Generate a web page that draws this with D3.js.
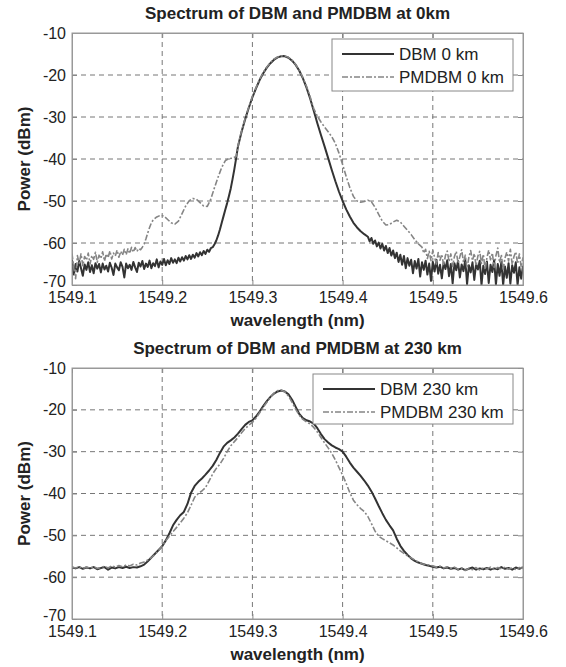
<!DOCTYPE html>
<html>
<head>
<meta charset="utf-8">
<script src="https://cdn.jsdelivr.net/npm/d3@7"></script>
<style>
  body { margin: 0; background: #fff; }
  svg { display: block; font-family: "Liberation Sans", Arial, sans-serif; }
</style>
</head>
<body>
<div id="chart"></div>
<script>
// axis ticks
const xTicks = [1549.1, 1549.2, 1549.3, 1549.4, 1549.5, 1549.6];
const yTicks = [-10, -20, -30, -40, -50, -60, -70];

// spectra, [wavelength nm, power dBm]
const dbm0 = [
  [1549.100,-64.0],[1549.102,-67.5],[1549.104,-65.0],[1549.106,-66.8],[1549.108,-64.2],[1549.110,-66.0],
  [1549.112,-67.8],[1549.114,-65.1],[1549.116,-66.4],[1549.118,-64.6],[1549.120,-66.9],[1549.122,-65.3],
  [1549.124,-67.2],[1549.126,-64.8],[1549.128,-66.1],[1549.130,-65.0],[1549.132,-67.0],[1549.134,-64.9],
  [1549.136,-66.3],[1549.138,-65.4],[1549.140,-66.8],[1549.142,-64.7],[1549.144,-65.9],[1549.146,-67.6],
  [1549.148,-64.9],[1549.150,-65.8],[1549.152,-66.5],[1549.154,-64.6],[1549.156,-65.7],[1549.158,-68.2],
  [1549.160,-64.9],[1549.162,-66.0],[1549.164,-65.2],[1549.166,-66.4],[1549.168,-64.5],[1549.170,-65.8],
  [1549.172,-66.9],[1549.174,-64.7],[1549.176,-65.6],[1549.178,-64.3],[1549.180,-66.2],[1549.182,-64.9],
  [1549.184,-65.7],[1549.186,-64.2],[1549.188,-66.0],[1549.190,-64.8],[1549.192,-65.5],[1549.194,-63.9],
  [1549.196,-65.8],[1549.198,-64.4],[1549.200,-65.2],[1549.202,-63.8],[1549.204,-65.3],[1549.206,-64.1],
  [1549.208,-65.0],[1549.210,-63.6],[1549.212,-64.7],[1549.214,-63.9],[1549.216,-64.8],[1549.218,-63.5],
  [1549.220,-64.4],[1549.222,-63.4],[1549.224,-64.2],[1549.226,-63.1],[1549.228,-63.9],[1549.230,-62.9],
  [1549.232,-63.8],[1549.234,-62.8],[1549.236,-63.5],[1549.238,-62.4],[1549.240,-63.2],[1549.242,-62.2],
  [1549.244,-62.9],[1549.246,-61.9],[1549.248,-62.6],[1549.250,-61.6],[1549.252,-62.1],[1549.254,-61.2],
  [1549.256,-61.0],[1549.258,-60.3],[1549.260,-59.4],[1549.262,-58.2],[1549.264,-56.8],[1549.266,-55.2],
  [1549.268,-53.6],[1549.270,-52.0],[1549.272,-50.5],[1549.274,-48.8],[1549.276,-47.0],[1549.278,-44.8],
  [1549.280,-42.4],[1549.282,-39.8],[1549.284,-37.0],[1549.288,-33.5],[1549.292,-30.5],[1549.296,-27.8],
  [1549.300,-25.3],[1549.304,-23.2],[1549.308,-21.2],[1549.312,-19.6],[1549.316,-18.25],[1549.320,-17.2],
  [1549.324,-16.35],[1549.328,-15.8],[1549.332,-15.55],[1549.334,-15.5],[1549.336,-15.55],[1549.340,-15.9],
  [1549.344,-16.6],[1549.348,-17.6],[1549.352,-19.0],[1549.356,-20.8],[1549.360,-23.0],[1549.364,-25.6],
  [1549.368,-28.5],[1549.372,-31.5],[1549.376,-34.3],[1549.380,-37.0],[1549.384,-39.8],[1549.388,-42.6],
  [1549.392,-45.3],[1549.396,-47.8],[1549.400,-50.0],[1549.404,-52.0],[1549.408,-53.7],[1549.412,-55.2],
  [1549.416,-56.3],[1549.420,-57.2],[1549.424,-57.9],[1549.428,-58.5],[1549.430,-59.6],[1549.432,-58.8],
  [1549.434,-60.2],[1549.436,-59.4],[1549.438,-60.8],[1549.440,-59.9],[1549.442,-61.3],[1549.444,-60.2],
  [1549.446,-61.8],[1549.448,-60.7],[1549.450,-62.4],[1549.452,-61.2],[1549.454,-63.0],[1549.456,-61.8],
  [1549.458,-63.6],[1549.460,-62.3],[1549.462,-64.5],[1549.464,-62.8],[1549.466,-65.2],[1549.468,-63.1],
  [1549.470,-66.0],[1549.472,-63.6],[1549.474,-65.4],[1549.476,-64.0],[1549.478,-67.2],[1549.480,-64.3],
  [1549.482,-66.1],[1549.484,-63.8],[1549.486,-68.0],[1549.488,-64.6],[1549.490,-66.4],[1549.492,-64.2],
  [1549.494,-67.5],[1549.496,-64.9],[1549.498,-69.0],[1549.500,-64.5],[1549.502,-66.8],[1549.504,-64.0],
  [1549.506,-67.3],[1549.508,-65.2],[1549.510,-68.4],[1549.512,-64.7],[1549.514,-66.2],[1549.516,-64.1],
  [1549.518,-67.9],[1549.520,-65.0],[1549.522,-69.6],[1549.524,-64.8],[1549.526,-66.5],[1549.528,-64.3],
  [1549.530,-68.2],[1549.532,-65.1],[1549.534,-66.7],[1549.536,-64.0],[1549.538,-69.8],[1549.540,-65.3],
  [1549.542,-67.0],[1549.544,-64.6],[1549.546,-68.8],[1549.548,-65.0],[1549.550,-66.3],[1549.552,-64.2],
  [1549.554,-70.0],[1549.556,-65.4],[1549.558,-67.4],[1549.560,-64.4],[1549.562,-69.5],[1549.564,-65.2],
  [1549.566,-66.9],[1549.568,-64.1],[1549.570,-69.9],[1549.572,-65.0],[1549.574,-67.8],[1549.576,-64.5],
  [1549.578,-70.0],[1549.580,-65.6],[1549.582,-68.3],[1549.584,-64.8],[1549.586,-69.7],[1549.588,-65.3],
  [1549.590,-67.1],[1549.592,-64.6],[1549.594,-70.0],[1549.596,-65.8],[1549.598,-68.5],[1549.600,-65.4]
];

const pmdbm0 = [
  [1549.100,-62.5],[1549.102,-66.0],[1549.104,-68.5],[1549.106,-63.0],[1549.108,-64.8],[1549.110,-62.6],
  [1549.112,-65.4],[1549.114,-63.2],[1549.116,-64.1],[1549.118,-62.4],[1549.120,-65.0],[1549.122,-63.0],
  [1549.124,-63.9],[1549.126,-62.2],[1549.128,-64.6],[1549.130,-62.9],[1549.132,-63.7],[1549.134,-62.1],
  [1549.136,-64.3],[1549.138,-62.6],[1549.140,-63.5],[1549.142,-61.9],[1549.144,-63.8],[1549.146,-62.4],
  [1549.148,-63.1],[1549.150,-61.7],[1549.152,-63.4],[1549.154,-62.0],[1549.156,-62.9],[1549.158,-61.5],
  [1549.160,-62.8],[1549.162,-61.4],[1549.164,-62.5],[1549.166,-61.0],[1549.168,-62.2],[1549.170,-61.1],
  [1549.172,-62.0],[1549.174,-61.3],[1549.176,-61.6],[1549.178,-61.0],[1549.180,-60.2],[1549.182,-59.0],
  [1549.184,-57.6],[1549.186,-56.3],[1549.188,-55.2],[1549.190,-54.5],[1549.194,-53.8],[1549.198,-53.4],
  [1549.202,-53.6],[1549.206,-54.4],[1549.210,-55.2],[1549.214,-55.5],[1549.218,-54.8],[1549.222,-53.0],
  [1549.226,-51.2],[1549.230,-49.9],[1549.234,-49.4],[1549.238,-49.6],[1549.242,-50.4],[1549.246,-51.2],
  [1549.250,-51.3],[1549.254,-49.5],[1549.258,-46.8],[1549.262,-44.3],[1549.266,-42.0],[1549.270,-40.4],
  [1549.274,-39.9],[1549.278,-39.8],[1549.282,-39.4],[1549.284,-36.8],[1549.288,-33.3],[1549.292,-30.3],
  [1549.296,-27.6],[1549.300,-25.1],[1549.304,-23.0],[1549.308,-21.0],[1549.312,-19.4],[1549.316,-18.1],
  [1549.320,-17.0],[1549.324,-16.2],[1549.328,-15.7],[1549.332,-15.45],[1549.334,-15.4],[1549.336,-15.45],
  [1549.340,-15.8],[1549.344,-16.5],[1549.348,-17.5],[1549.352,-18.9],[1549.356,-20.6],[1549.360,-22.7],
  [1549.364,-25.2],[1549.368,-28.0],[1549.372,-29.8],[1549.376,-31.2],[1549.380,-32.4],[1549.384,-33.5],
  [1549.388,-34.7],[1549.392,-36.3],[1549.396,-38.6],[1549.400,-41.3],[1549.404,-44.2],[1549.408,-46.8],
  [1549.412,-48.9],[1549.416,-50.0],[1549.420,-50.3],[1549.424,-50.1],[1549.428,-49.8],[1549.432,-50.2],
  [1549.436,-51.5],[1549.440,-53.2],[1549.444,-54.8],[1549.448,-55.7],[1549.452,-55.6],[1549.456,-55.0],
  [1549.460,-54.6],[1549.464,-55.0],[1549.468,-56.0],[1549.472,-57.0],[1549.476,-58.0],[1549.480,-59.2],
  [1549.484,-60.2],[1549.488,-61.0],[1549.490,-62.4],[1549.492,-61.5],[1549.494,-63.7],[1549.496,-62.0],
  [1549.498,-64.2],[1549.500,-61.8],[1549.502,-63.4],[1549.504,-65.0],[1549.506,-62.3],[1549.508,-64.1],
  [1549.510,-62.7],[1549.512,-65.3],[1549.514,-63.0],[1549.516,-61.9],[1549.518,-64.4],[1549.520,-62.6],
  [1549.522,-65.6],[1549.524,-63.2],[1549.526,-62.0],[1549.528,-64.8],[1549.530,-63.3],[1549.532,-61.6],
  [1549.534,-64.6],[1549.536,-62.9],[1549.538,-66.0],[1549.540,-63.4],[1549.542,-61.8],[1549.544,-64.2],
  [1549.546,-62.5],[1549.548,-65.4],[1549.550,-63.1],[1549.552,-62.0],[1549.554,-64.9],[1549.556,-62.7],
  [1549.558,-66.3],[1549.560,-63.5],[1549.562,-61.7],[1549.564,-64.0],[1549.566,-62.4],[1549.568,-65.8],
  [1549.570,-63.0],[1549.572,-61.2],[1549.574,-64.7],[1549.576,-62.8],[1549.578,-66.5],[1549.580,-63.6],
  [1549.582,-62.2],[1549.584,-64.3],[1549.586,-61.5],[1549.588,-65.1],[1549.590,-63.2],[1549.592,-62.1],
  [1549.594,-64.9],[1549.596,-62.6],[1549.598,-65.7],[1549.600,-63.4]
];

const dbm230 = [
  [1549.100,-57.7],[1549.104,-57.9],[1549.108,-57.6],[1549.112,-58.0],[1549.116,-57.7],[1549.120,-57.9],
  [1549.124,-57.6],[1549.128,-58.1],[1549.132,-57.8],[1549.136,-57.6],[1549.140,-58.2],[1549.144,-57.7],
  [1549.148,-57.9],[1549.152,-57.6],[1549.156,-57.8],[1549.160,-57.5],[1549.164,-57.8],[1549.168,-57.6],
  [1549.172,-57.7],[1549.176,-57.4],[1549.180,-57.0],[1549.184,-56.2],[1549.188,-55.3],[1549.192,-54.4],
  [1549.196,-53.5],[1549.200,-52.6],[1549.204,-51.2],[1549.208,-49.5],[1549.212,-47.6],[1549.216,-46.3],
  [1549.220,-45.2],[1549.224,-44.4],[1549.228,-42.5],[1549.232,-39.8],[1549.236,-38.2],[1549.240,-37.2],
  [1549.244,-36.4],[1549.248,-35.5],[1549.252,-34.5],[1549.256,-33.4],[1549.260,-32.0],[1549.264,-30.3],
  [1549.268,-28.8],[1549.272,-27.9],[1549.276,-27.3],[1549.280,-26.6],[1549.284,-25.7],[1549.288,-24.6],
  [1549.292,-23.6],[1549.296,-22.9],[1549.300,-22.5],[1549.304,-21.6],[1549.308,-20.4],[1549.312,-19.1],
  [1549.316,-17.9],[1549.320,-16.9],[1549.324,-16.1],[1549.328,-15.6],[1549.332,-15.4],[1549.336,-15.6],
  [1549.340,-16.3],[1549.344,-17.6],[1549.348,-19.3],[1549.352,-21.0],[1549.356,-22.0],[1549.360,-22.5],
  [1549.364,-22.8],[1549.368,-23.3],[1549.372,-24.4],[1549.376,-25.8],[1549.380,-27.0],[1549.384,-27.8],
  [1549.388,-28.5],[1549.392,-29.0],[1549.396,-29.4],[1549.400,-30.0],[1549.404,-31.2],[1549.408,-32.6],
  [1549.412,-33.8],[1549.416,-34.8],[1549.420,-35.8],[1549.424,-36.9],[1549.428,-38.1],[1549.432,-39.5],
  [1549.436,-41.2],[1549.440,-43.0],[1549.444,-44.7],[1549.448,-46.3],[1549.452,-47.6],[1549.456,-48.8],
  [1549.460,-50.8],[1549.464,-52.5],[1549.468,-53.7],[1549.472,-54.7],[1549.476,-55.5],[1549.480,-56.1],
  [1549.484,-56.5],[1549.488,-56.8],[1549.492,-57.1],[1549.496,-57.3],[1549.500,-57.5],[1549.504,-57.7],
  [1549.508,-57.5],[1549.512,-57.9],[1549.516,-57.7],[1549.520,-58.0],[1549.524,-57.8],[1549.528,-58.2],
  [1549.532,-57.9],[1549.536,-58.3],[1549.540,-58.0],[1549.544,-57.7],[1549.548,-58.2],[1549.552,-57.9],
  [1549.556,-58.1],[1549.560,-57.8],[1549.564,-58.2],[1549.568,-57.9],[1549.572,-58.1],[1549.576,-57.6],
  [1549.580,-58.0],[1549.584,-57.8],[1549.588,-58.2],[1549.592,-57.7],[1549.596,-58.0],[1549.600,-57.6]
];

const pmdbm230 = [
  [1549.100,-57.6],[1549.104,-57.8],[1549.108,-57.5],[1549.112,-57.9],[1549.116,-57.6],[1549.120,-57.8],
  [1549.124,-57.5],[1549.128,-57.9],[1549.132,-57.7],[1549.136,-57.4],[1549.140,-57.8],[1549.144,-57.3],
  [1549.148,-57.6],[1549.152,-57.2],[1549.156,-57.5],[1549.160,-57.1],[1549.164,-57.3],[1549.168,-56.9],
  [1549.172,-57.1],[1549.176,-56.6],[1549.180,-56.4],[1549.184,-55.9],[1549.188,-55.3],[1549.192,-54.6],
  [1549.196,-53.6],[1549.200,-52.5],[1549.204,-51.3],[1549.208,-50.2],[1549.212,-49.1],[1549.216,-48.1],
  [1549.220,-47.0],[1549.224,-45.9],[1549.228,-44.6],[1549.232,-42.8],[1549.236,-40.9],[1549.240,-40.0],
  [1549.244,-39.4],[1549.248,-38.6],[1549.252,-37.0],[1549.256,-35.3],[1549.260,-34.0],[1549.264,-33.0],
  [1549.268,-31.6],[1549.272,-30.0],[1549.276,-28.6],[1549.280,-27.6],[1549.284,-26.6],[1549.288,-25.5],
  [1549.292,-24.5],[1549.296,-23.7],[1549.300,-23.0],[1549.304,-22.0],[1549.308,-20.7],[1549.312,-19.4],
  [1549.316,-18.2],[1549.320,-17.0],[1549.324,-16.0],[1549.328,-15.4],[1549.332,-15.3],[1549.336,-15.7],
  [1549.340,-16.7],[1549.344,-18.2],[1549.348,-19.9],[1549.352,-21.3],[1549.356,-22.3],[1549.360,-22.9],
  [1549.364,-23.4],[1549.368,-24.2],[1549.372,-25.3],[1549.376,-26.6],[1549.380,-27.9],[1549.384,-29.1],
  [1549.388,-30.4],[1549.392,-32.0],[1549.396,-33.8],[1549.400,-35.6],[1549.404,-37.6],[1549.408,-39.8],
  [1549.412,-41.6],[1549.416,-42.7],[1549.420,-43.6],[1549.424,-44.3],[1549.428,-45.5],[1549.432,-47.2],
  [1549.436,-49.0],[1549.440,-50.2],[1549.444,-50.8],[1549.448,-51.3],[1549.452,-51.8],[1549.456,-52.3],
  [1549.460,-53.0],[1549.464,-53.7],[1549.468,-54.3],[1549.472,-54.9],[1549.476,-55.4],[1549.480,-55.9],
  [1549.484,-56.4],[1549.488,-56.8],[1549.492,-57.0],[1549.496,-57.1],[1549.500,-57.3],[1549.504,-57.6],
  [1549.508,-57.4],[1549.512,-57.8],[1549.516,-57.5],[1549.520,-58.0],[1549.524,-57.6],[1549.528,-58.1],
  [1549.532,-57.8],[1549.536,-58.4],[1549.540,-57.9],[1549.544,-58.2],[1549.548,-57.7],[1549.552,-58.3],
  [1549.556,-57.8],[1549.560,-58.0],[1549.564,-57.6],[1549.568,-58.2],[1549.572,-57.7],[1549.576,-58.0],
  [1549.580,-57.6],[1549.584,-58.1],[1549.588,-57.8],[1549.592,-58.2],[1549.596,-57.7],[1549.600,-57.9]
];

const panels = [
  { title: "Spectrum of DBM and PMDBM at 0km", top: 33, bottom: 285,
    series: [{ name: "DBM 0 km", data: dbm0, kind: "solid" }, { name: "PMDBM 0 km", data: pmdbm0, kind: "dashdot" }],
    legend: { x: 332, y: 39, w: 181, h: 52 } },
  { title: "Spectrum of DBM and PMDBM at 230 km", top: 368, bottom: 619,
    series: [{ name: "DBM 230 km", data: dbm230, kind: "solid" }, { name: "PMDBM 230 km", data: pmdbm230, kind: "dashdot" }],
    legend: { x: 313, y: 374, w: 200, h: 50 } }
];

const width = 566, height = 667;
const left = 72, right = 523;
const style = {
  solid: { stroke: "#333", width: 2, dash: null },
  dashdot: { stroke: "#858585", width: 1.6, dash: "6,2,2,2" }
};

const svg = d3.select("#chart").append("svg")
  .attr("width", width)
  .attr("height", height);

panels.forEach((p, pi) => {
  const x = d3.scaleLinear().domain([1549.1, 1549.6]).range([left, right]);
  const y = d3.scaleLinear().domain([-70, -10]).range([p.bottom, p.top]);

  const g = svg.append("g");

  // grid lines (dashed)
  g.append("g").selectAll("line")
    .data(xTicks.slice(1, -1))
    .join("line")
    .attr("x1", d => x(d)).attr("x2", d => x(d))
    .attr("y1", p.top).attr("y2", p.bottom)
    .attr("stroke", "#777").attr("stroke-dasharray", "5,4").attr("stroke-width", 1);
  g.append("g").selectAll("line")
    .data(yTicks.slice(1, -1))
    .join("line")
    .attr("y1", d => y(d)).attr("y2", d => y(d))
    .attr("x1", left).attr("x2", right)
    .attr("stroke", "#777").attr("stroke-dasharray", "5,4").attr("stroke-width", 1);

  // axes, ticks pointing in
  const xAxis = g.append("g")
    .attr("transform", `translate(0,${p.bottom})`)
    .call(d3.axisBottom(x).tickValues(xTicks).tickSize(-5).tickPadding(7).tickFormat(d3.format(".1f")));
  const yAxis = g.append("g")
    .attr("transform", `translate(${left},0)`)
    .call(d3.axisLeft(y).tickValues(yTicks).tickSize(-5).tickPadding(6).tickFormat(d => d));
  g.append("g")
    .attr("transform", `translate(0,${p.top})`)
    .call(d3.axisTop(x).tickValues(xTicks).tickSize(-5).tickFormat(""));
  g.append("g")
    .attr("transform", `translate(${right},0)`)
    .call(d3.axisRight(y).tickValues(yTicks).tickSize(-5).tickFormat(""));

  g.selectAll(".domain").attr("stroke", "#999");
  g.selectAll(".tick line").attr("stroke", "#888");
  [xAxis, yAxis].forEach(a => a.selectAll("text")
    .attr("font-size", 16).attr("fill", "#222")
    .attr("font-family", "'Liberation Sans', Arial, sans-serif"));
  // lift the bottom y label a little so it clears the first x label
  yAxis.selectAll(".tick text").filter(d => d === -70).attr("dy", "0.12em");

  // clip for the traces
  svg.append("clipPath").attr("id", "clip" + pi)
    .append("rect").attr("x", left).attr("y", p.top)
    .attr("width", right - left).attr("height", p.bottom - p.top);

  const line = d3.line().x(d => x(d[0])).y(d => y(d[1]));
  g.append("g").attr("clip-path", `url(#clip${pi})`)
    .selectAll("path")
    .data(p.series)
    .join("path")
    .attr("d", d => line(d.data))
    .attr("fill", "none")
    .attr("stroke", d => style[d.kind].stroke)
    .attr("stroke-width", d => style[d.kind].width)
    .attr("stroke-dasharray", d => style[d.kind].dash)
    .attr("stroke-linejoin", "round");

  // frame
  g.append("rect")
    .attr("x", left).attr("y", p.top)
    .attr("width", right - left).attr("height", p.bottom - p.top)
    .attr("fill", "none").attr("stroke", "#999");

  // titles
  g.append("text")
    .attr("x", (left + right) / 2).attr("y", p.top - 14)
    .attr("text-anchor", "middle").attr("font-size", 17).attr("font-weight", "bold")
    .attr("fill", "#222")
    .text(p.title);
  g.append("text")
    .attr("x", (left + right) / 2).attr("y", p.bottom + 41)
    .attr("text-anchor", "middle").attr("font-size", 17).attr("font-weight", "bold")
    .attr("fill", "#222")
    .text("wavelength (nm)");
  g.append("text")
    .attr("transform", `translate(30,${(p.top + p.bottom) / 2}) rotate(-90)`)
    .attr("text-anchor", "middle").attr("font-size", 17).attr("font-weight", "bold")
    .attr("fill", "#222")
    .text("Power (dBm)");

  // legend
  const L = p.legend;
  const lg = g.append("g").attr("transform", `translate(${L.x},${L.y})`);
  lg.append("rect").attr("width", L.w).attr("height", L.h)
    .attr("fill", "#fff").attr("stroke", "#888");
  const item = lg.selectAll("g.item")
    .data(p.series)
    .join("g")
    .attr("class", "item")
    .attr("transform", (d, i) => `translate(0,${15 + i * 23})`);
  item.append("line")
    .attr("x1", 10).attr("x2", 62)
    .attr("stroke", d => style[d.kind].stroke)
    .attr("stroke-width", d => style[d.kind].width)
    .attr("stroke-dasharray", d => style[d.kind].dash);
  item.append("text")
    .attr("x", 67).attr("dy", "0.35em")
    .attr("font-size", 17).attr("fill", "#222")
    .text(d => d.name);
});
</script>
</body>
</html>
